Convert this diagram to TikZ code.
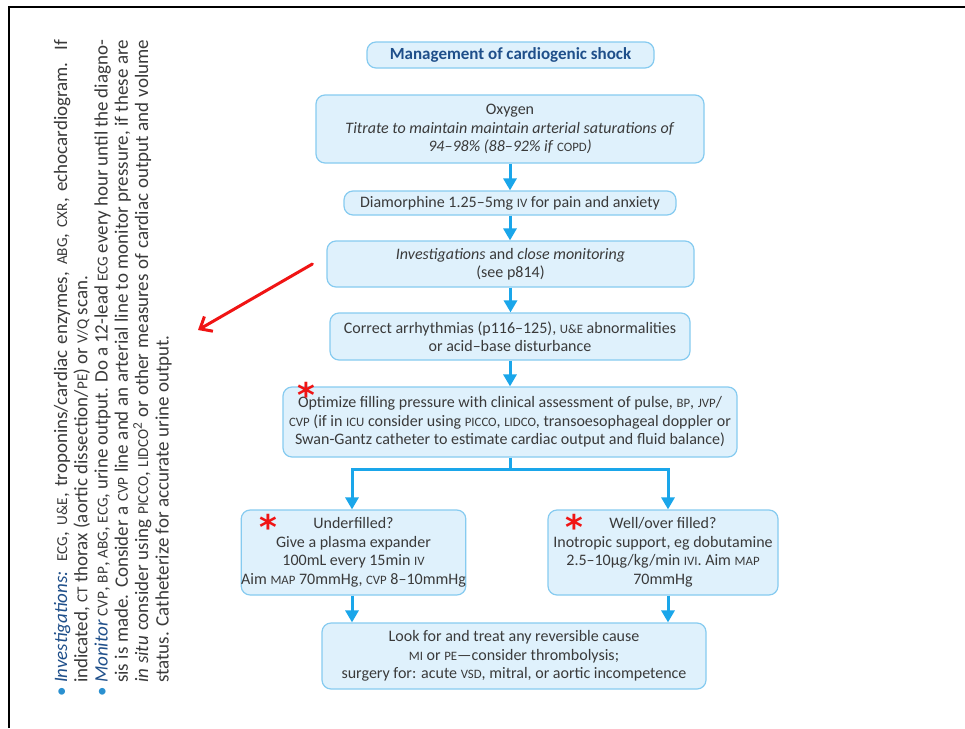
\documentclass[tikz,border=0pt]{standalone}
\usepackage{fontspec}
\setmainfont{Carlito}
\newfontfamily\astfont{DejaVu Sans}
\usetikzlibrary{arrows.meta}
\definecolor{boxfill}{HTML}{DFF1FC}
\definecolor{boxline}{HTML}{86CBF0}
\definecolor{flowblue}{HTML}{1AA6EA}
\definecolor{textgray}{HTML}{3A3A3A}
\definecolor{titleblue}{HTML}{1F4F8A}
\definecolor{notered}{HTML}{F01414}
\definecolor{bulletblue}{HTML}{2A90D0}
\makeatletter
% capitals set at 80% of the surrounding size, in place of small caps
\newcommand\smc[1]{{\fontsize{\the\dimexpr\f@size pt*8/10\relax}{\f@baselineskip}\selectfont #1}}
\makeatother
\newcommand\notebullet{\llap{\textcolor{bulletblue}{\textbullet}\hspace{4pt}}}
\begin{document}
\begin{tikzpicture}[x=1pt, y=-1pt,
  box/.style={draw=boxline, fill=boxfill, line width=1.2pt, rounded corners=9pt,
    align=center, text=textgray, inner sep=0pt, font=\fontsize{16}{18.5}\selectfont},
  flow/.style={draw=flowblue, line width=3pt, -{Triangle[length=12pt,width=13pt]}},
  link/.style={draw=flowblue, line width=3pt},
  redarrow/.style={draw=notered, line width=3pt, line cap=round,
    -{Straight Barb[length=10pt,width=17pt,line width=3pt]}},
  ast/.style={anchor=north, inner sep=0pt, text=notered,
    font=\astfont\bfseries\fontsize{34}{34}\selectfont},
  sidenote/.style={rotate=90, anchor=base west, inner sep=0pt, text=textgray,
    font=\fontsize{19}{20}\selectfont}]
\useasboundingbox (0,0) rectangle (965,728);
\fill[white] (0,0) rectangle (965,728);

% page frame
\draw[line width=2.6pt] (9,728) -- (9,7) -- (965,7);

% flowchart boxes
\node[box, minimum width=287pt, minimum height=26pt, text=titleblue,
  font=\fontsize{17}{18}\selectfont\bfseries] (title) at (510.5,55) {Management of cardiogenic shock};
\node[box, minimum width=388pt, minimum height=68pt] (oxy) at (510,129)
  {Oxygen\\\textit{Titrate to maintain maintain arterial saturations of}\\\textit{94–98\% (88–92\% if} \smc{COPD}\textit{)}};
\node[box, minimum width=332pt, minimum height=24pt] (diam) at (510,203)
  {Diamorphine 1.25–5mg \smc{IV} for pain and anxiety};
\node[box, minimum width=367pt, minimum height=46pt] (inv) at (510.5,264)
  {\textit{Investigations} and \textit{close monitoring}\\(see p814)};
\node[box, minimum width=360pt, minimum height=47pt] (corr) at (510,336.5)
  {Correct arrhythmias (p116–125), \smc{U\&E} abnormalities\\or acid–base disturbance};
\node[box, minimum width=454pt, minimum height=70pt] (opt) at (510,422)
  {Optimize filling pressure with clinical assessment of pulse, \smc{BP}, \smc{JVP}/\\\smc{CVP} (if in \smc{ICU} consider using \smc{PICCO}, \smc{LIDCO}, transoesophageal doppler or\\Swan-Gantz catheter to estimate cardiac output and fluid balance)};
\node[box, minimum width=223pt, minimum height=85pt] (under) at (353.5,552.5)
  {Underfilled?\\Give a plasma expander\\100mL every 15min \smc{IV}\\Aim \smc{MAP} 70mmHg, \smc{CVP} 8–10mmHg};
\node[box, minimum width=230pt, minimum height=85pt] (well) at (663,552.5)
  {Well/over filled?\\Inotropic support, eg dobutamine\\2.5–10µg/kg/min \smc{IVI}. Aim \smc{MAP}\\70mmHg};
\node[box, minimum width=384pt, minimum height=66pt] (look) at (514,656)
  {Look for and treat any reversible cause\\\smc{MI} or \smc{PE}—consider thrombolysis;\\surgery for: acute \smc{VSD}, mitral, or aortic incompetence};

% red asterisks
\node[ast] (astopt) at (306,382) {*};
\node[ast] (astunder) at (268,514) {*};
\node[ast] (astwell) at (574,514) {*};

% connectors
\draw[flow] (oxy.south) -- (oxy.south |- diam.north);
\draw[flow] (diam.south) -- (diam.south |- inv.north);
\draw[flow] (inv.south) -- (inv.south |- corr.north);
\draw[flow] (corr.south) -- (corr.south |- opt.north);
\coordinate (splitL) at (352,469);
\coordinate (splitR) at (668,469);
\draw[link] (opt.south) -- (opt.south |- splitL);
\draw[flow] (opt.south |- splitL) -| (splitL |- under.north);
\draw[flow] (opt.south |- splitR) -| (splitR |- well.north);
\draw[flow] (splitL |- under.south) -- (splitL |- look.north);
\draw[flow] (splitR |- well.south) -- (splitR |- look.north);

% pointer to the notes
\coordinate (notes) at (198,330);
\draw[redarrow] ([xshift=-14pt]inv.west) -- (notes);

% rotated notes
\node[sidenote] (n1) at (67,683) {\notebullet\makebox[643pt][s]{\textcolor{titleblue}{\textit{Investigations:}} \smc{ECG}, \smc{U\&E}, troponins/cardiac enzymes, \smc{ABG}, \smc{CXR}, echocardiogram. If}};
\node[sidenote] (n2) at (87.3,683) {indicated, \smc{CT} thorax (aortic dissection/\smc{PE}) or \smc{V/Q} scan.};
\node[sidenote] (n3) at (107.6,683) {\notebullet\makebox[643pt][s]{\textcolor{titleblue}{\textit{Monitor}} \smc{CVP}, \smc{BP}, \smc{ABG}, \smc{ECG}, urine output. Do a 12-lead \smc{ECG} every hour until the diagno-}};
\node[sidenote] (n4) at (127.9,683) {\makebox[643pt][s]{sis is made. Consider a \smc{CVP} line and an arterial line to monitor pressure, if these are}};
\node[sidenote] (n5) at (148.2,683) {\makebox[643pt][s]{\textit{in situ} consider using \smc{PICCO}, \smc{LIDCO}\textsuperscript{2} or other measures of cardiac output and volume}};
\node[sidenote] (n6) at (168.5,683) {status. Catheterize for accurate urine output.};
\end{tikzpicture}
\end{document}
